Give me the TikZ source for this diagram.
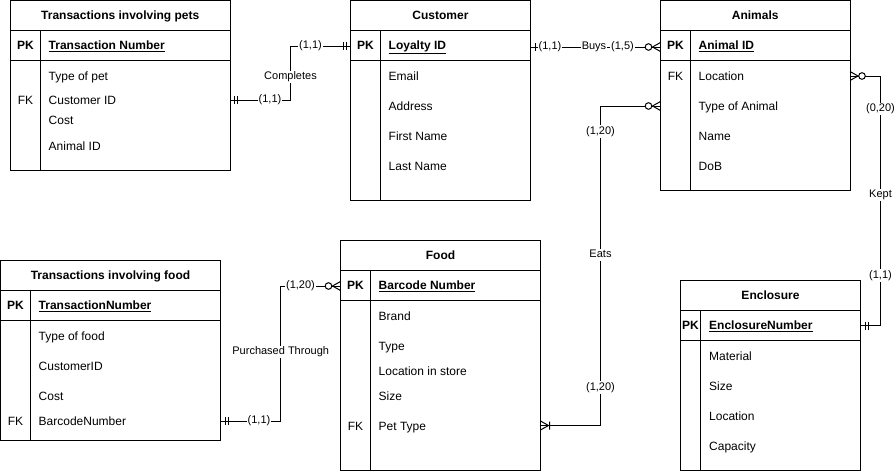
\documentclass[tikz,border=0pt]{standalone}
\usepackage{fontspec}
\setmainfont{Liberation Sans}
\usetikzlibrary{calc}
\tikzset{
  conn/.style={line width=1pt},
  box/.style={draw, line width=1pt, anchor=north west, inner sep=0pt, outer sep=0pt},
  ttl/.style={font=\fontsize{12}{14}\selectfont\bfseries, inner sep=0pt, text height=8.6pt, text depth=0pt},
  keyt/.style={font=\fontsize{12}{14}\selectfont\bfseries, inner sep=0pt, text height=8.6pt, text depth=0pt},
  fkt/.style={font=\fontsize{12}{14}\selectfont, inner sep=0pt, text height=8.6pt, text depth=0pt},
  fld/.style={font=\fontsize{12}{14}\selectfont, anchor=west, inner sep=0pt, text height=8.6pt, text depth=0pt},
  keyfld/.style={font=\fontsize{12}{14}\selectfont\bfseries, anchor=west, inner sep=0pt, text height=8.6pt, text depth=0pt},
  lbl/.style={font=\fontsize{11}{13}\selectfont, fill=white, inner xsep=0.8pt, inner ysep=1.2pt, text height=7.9pt, text depth=2.3pt},
}
\newcommand\mkone[2]{\begin{scope}[shift={(#1)},xscale=#2]\draw[conn] (4.5,-4)--(4.5,4) (7.5,-4)--(7.5,4);\end{scope}}
\newcommand\mkzmany[2]{\begin{scope}[shift={(#1)},xscale=#2]\draw[conn] (0,-4.5)--(8,0)--(0,4.5);\draw[conn,fill=white] (12,0) circle (3.3pt);\end{scope}}
\newcommand\mkomany[2]{\begin{scope}[shift={(#1)},xscale=#2]\draw[conn] (0,-4.5)--(8,0)--(0,4.5) (9,-4)--(9,4);\end{scope}}
\begin{document}
\begin{tikzpicture}[x=1pt,y=-1pt]
\fill[white] (0,0) rectangle (895,471);
\useasboundingbox (0,0) rectangle (895,471);

% ---------- Transactions involving pets
\node[box, minimum width=219.5pt, minimum height=170pt] (t1) at (10.5,0.5) {};
\draw[conn] (10.5,30) -- (230,30) (10.5,60.5) -- (230,60.5) (40.5,30) -- (40.5,170.5);
\node[ttl] (t1t) at (120.25,15) {Transactions involving pets};
\node[keyt] (t1pk) at (25.5,45) {PK};
\node[keyfld] (t1k) at (48.5,45) {\underline{Transaction Number}};
\node[fld] (t1r1) at (48.5,76) {Type of pet};
\node[fkt] (t1fk) at (25.5,100) {FK};
\node[fld] (t1r2) at (48.5,100) {Customer ID};
\node[fld] (t1r3) at (48.5,120.5) {Cost};
\node[fld] (t1r4) at (48.5,146) {Animal ID};

% ---------- Customer
\node[box, minimum width=180pt, minimum height=199.5pt] (cust) at (350.5,0.5) {};
\draw[conn] (350.5,30) -- (530.5,30) (350.5,60.5) -- (530.5,60.5) (380.5,30) -- (380.5,200);
\node[ttl] (custt) at (440.5,15) {Customer};
\node[keyt] (custpk) at (365.5,45) {PK};
\node[keyfld] (custk) at (388.5,45) {\underline{Loyalty ID}};
\node[fld] (custr1) at (388.5,76) {Email};
\node[fld] (custr2) at (388.5,106) {Address};
\node[fld] (custr3) at (388.5,136) {First Name};
\node[fld] (custr4) at (388.5,166) {Last Name};

% ---------- Animals
\node[box, minimum width=189.5pt, minimum height=189.5pt] (anim) at (660.5,0.5) {};
\draw[conn] (660.5,30) -- (850,30) (660.5,60.5) -- (850,60.5) (690.5,30) -- (690.5,190);
\node[ttl] (animt) at (755.25,15) {Animals};
\node[keyt] (animpk) at (675.5,45) {PK};
\node[keyfld] (animk) at (698.5,45) {\underline{Animal ID}};
\node[fkt] (animfk) at (675.5,76) {FK};
\node[fld] (animr1) at (698.5,76) {Location};
\node[fld] (animr2) at (698.5,106) {Type of Animal};
\node[fld] (animr3) at (698.5,136) {Name};
\node[fld] (animr4) at (698.5,166) {DoB};

% ---------- Transactions involving food
\node[box, minimum width=220pt, minimum height=180pt] (t2) at (0.5,260) {};
\draw[conn] (0.5,290) -- (220.5,290) (0.5,320) -- (220.5,320) (30.5,290) -- (30.5,440);
\node[ttl] (t2t) at (110.5,275) {Transactions involving food};
\node[keyt] (t2pk) at (15.5,305) {PK};
\node[keyfld] (t2k) at (38.5,305) {\underline{TransactionNumber}};
\node[fld] (t2r1) at (38.5,336) {Type of food};
\node[fld] (t2r2) at (38.5,366) {CustomerID};
\node[fld] (t2r3) at (38.5,396) {Cost};
\node[fkt] (t2fk) at (15.5,421) {FK};
\node[fld] (t2r4) at (38.5,421) {BarcodeNumber};

% ---------- Food
\node[box, minimum width=200pt, minimum height=230pt] (food) at (340.5,240) {};
\draw[conn] (340.5,270) -- (540.5,270) (340.5,300) -- (540.5,300) (370.5,270) -- (370.5,470);
\node[ttl] (foodt) at (440.5,255) {Food};
\node[keyt] (foodpk) at (355.5,285.5) {PK};
\node[keyfld] (foodk) at (378.5,285.5) {\underline{Barcode Number}};
\node[fld] (foodr1) at (378.5,316) {Brand};
\node[fld] (foodr2) at (378.5,346) {Type};
\node[fld] (foodr3) at (378.5,371) {Location in store};
\node[fld] (foodr4) at (378.5,396) {Size};
\node[fkt] (foodfk) at (355.5,426) {FK};
\node[fld] (foodr5) at (378.5,426) {Pet Type};

% ---------- Enclosure
\node[box, minimum width=180pt, minimum height=189.5pt] (encl) at (680.5,280.5) {};
\draw[conn] (680.5,310.5) -- (860.5,310.5) (680.5,340.5) -- (860.5,340.5) (700.5,310.5) -- (700.5,470);
\node[ttl] (enclt) at (770.5,295.5) {Enclosure};
\node[keyt] (enclpk) at (690.5,325.5) {PK};
\node[keyfld] (enclk) at (709,325.5) {\underline{EnclosureNumber}};
\node[fld] (enclr1) at (709,356) {Material};
\node[fld] (enclr2) at (709,386) {Size};
\node[fld] (enclr3) at (709,416) {Location};
\node[fld] (enclr4) at (709,446) {Capacity};

% ---------- connector end points
\coordinate (cA) at (t1.east |- 0,100);
\coordinate (cB) at (cust.west |- 0,46);
\coordinate (bA) at (cust.east |- 0,47);
\coordinate (bB) at (anim.west |- 0,47);
\coordinate (eA) at (anim.west |- 0,106);
\coordinate (eB) at (food.east |- 0,425.5);
\coordinate (kA) at (anim.east |- 0,76);
\coordinate (kB) at (encl.east |- 0,325.5);
\coordinate (pA) at (t2.east |- 0,421);
\coordinate (pB) at (food.west |- 0,286);

% ---------- connectors
\draw[conn] (cA) -| (290.5,73) |- (cB);
\draw[conn] (bA) -- (bB);
\draw[conn] (eA) -| (600.5,425.5) -- (eB);
\draw[conn] (kA) -| (880.5,325.5) -- (kB);
\draw[conn] (pA) -| (280.7,350) |- (pB);

% ---------- end marks
\mkone{cA}{1}
\mkone{cB}{-1}
\mkone{bA}{1}
\mkzmany{bB}{-1}
\mkzmany{eA}{-1}
\mkomany{eB}{1}
\mkzmany{kA}{1}
\mkone{kB}{1}
\mkone{pA}{1}
\mkzmany{pB}{-1}

% ---------- labels
\node[lbl] (l1) at (270,100) {(1,1)};
\node[lbl] (l2) at (310.5,46) {(1,1)};
\node[lbl] (l3) at (290.5,77) {Completes};
\node[lbl] (l4) at (550,47) {(1,1)};
\node[lbl] (l5) at (594,47) {Buys};
\node[lbl] (l6) at (622.5,47) {(1,5)};
\node[lbl] (l7) at (600.5,131.5) {(1,20)};
\node[lbl] (l8) at (600.5,255) {Eats};
\node[lbl] (l9) at (600.5,387.5) {(1,20)};
\node[lbl] (l10) at (880.5,109) {(0,20)};
\node[lbl] (l11) at (880.5,195) {Kept};
\node[lbl] (l12) at (880.5,275.5) {(1,1)};
\node[lbl] (l13) at (259,421) {(1,1)};
\node[lbl] (l14) at (300.5,286) {(1,20)};
\node[lbl] (l15) at (280.7,352) {Purchased Through};
\end{tikzpicture}
\end{document}
